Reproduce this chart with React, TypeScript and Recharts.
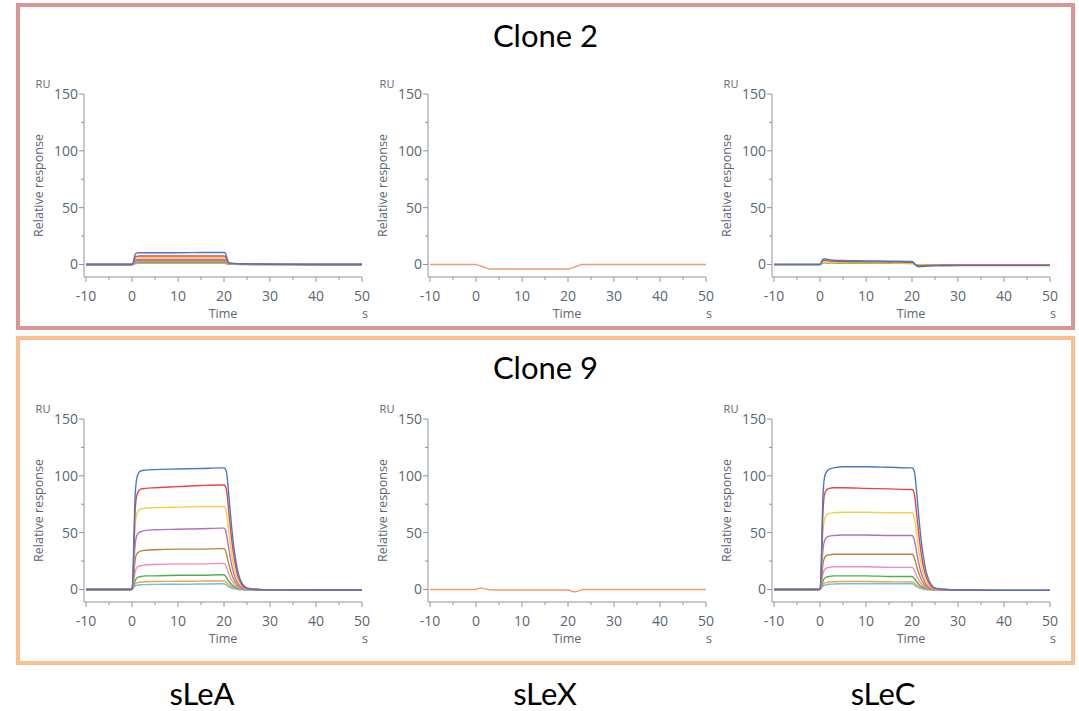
import React from 'react';
import { LineChart, Line, XAxis, YAxis, Label } from 'recharts';

// sample times (s) shared by every sensorgram
const TIME = [-10, -0.5, 0, 0.3, 0.6, 1, 1.5, 2, 3, 5, 10, 15, 19.5, 20, 20.3, 20.6, 21, 21.5, 22, 22.5, 23, 23.5, 24, 25, 27, 30, 40, 50];

const X_TICKS = [-10, -5, 0, 5, 10, 15, 20, 25, 30, 35, 40, 45, 50];
const Y_TICKS = [0, 25, 50, 75, 100, 125, 150];

// concentration series colours, highest first
const COLORS = ['#4a78c8', '#e8473f', '#f0d24a', '#b36fc4', '#b38a33', '#f08cbf', '#4cb04c', '#f5a245', '#6ec0e8'];
const SLEX_COLOR = '#f39a72';

// Clone 2
const clone2SLeA = [
  [0, 0, 0, 2, 8, 10, 10.3, 10.3, 10.3, 10.3, 10.4, 10.5, 10.5, 10.5, 10, 6, 2, 1.2, 1, 0.9, 0.8, 0.7, 0.7, 0.6, 0.5, 0.3, 0, 0],
  [0, 0, 0, 1.5, 5.5, 7.2, 7.5, 7.5, 7.5, 7.5, 7.5, 7.5, 7.5, 7.5, 7.1, 4.3, 1.5, 0.9, 0.8, 0.7, 0.6, 0.5, 0.5, 0.4, 0.3, 0.2, 0, 0],
  [0, 0, 0, 1.2, 4.4, 5.8, 6, 6, 6, 6, 6, 6, 6, 6, 5.7, 3.5, 1.2, 0.7, 0.6, 0.5, 0.5, 0.4, 0.4, 0.3, 0.2, 0.1, 0, 0],
  [0, 0, 0, 0.9, 3.3, 4.3, 4.5, 4.5, 4.5, 4.5, 4.5, 4.5, 4.5, 4.5, 4.3, 2.6, 0.9, 0.5, 0.5, 0.4, 0.4, 0.3, 0.3, 0.2, 0.2, 0.1, 0, 0],
  [0, 0, 0, 0.7, 2.6, 3.4, 3.5, 3.5, 3.5, 3.5, 3.5, 3.5, 3.5, 3.5, 3.3, 2, 0.7, 0.4, 0.4, 0.3, 0.3, 0.2, 0.2, 0.2, 0.1, 0.1, 0, 0],
  [0, 0, 0, 0.5, 1.8, 2.4, 2.5, 2.5, 2.5, 2.5, 2.5, 2.5, 2.5, 2.5, 2.4, 1.4, 0.5, 0.3, 0.3, 0.2, 0.2, 0.2, 0.1, 0.1, 0.1, 0, 0, 0],
  [0, 0, 0, 0.4, 1.5, 1.9, 2, 2, 2, 2, 2, 2, 2, 2, 1.9, 1.2, 0.4, 0.2, 0.2, 0.2, 0.1, 0.1, 0.1, 0.1, 0, 0, 0, 0],
  [0, 0, 0, 0.3, 1.1, 1.4, 1.5, 1.5, 1.5, 1.5, 1.5, 1.5, 1.5, 1.5, 1.4, 0.9, 0.3, 0.2, 0.1, 0.1, 0.1, 0.1, 0, 0, 0, 0, 0, 0],
  [0, 0, 0, 0.2, 0.7, 0.9, 1, 1, 1, 1, 1, 1, 1, 1, 0.9, 0.6, 0.2, 0.1, 0.1, 0.1, 0, 0, 0, 0, 0, 0, 0, 0],
];

const clone2SLeX = [
  [0, 0, 0, -0.4, -0.8, -1.3, -2, -2.7, -4, -4, -4, -4, -4, -4, -3.6, -3.2, -2.7, -2, -1.3, -0.7, 0, 0, 0, 0, 0, 0, 0, 0],
];

const clone2SLeC = [
  [0, 0, 0, 2, 4.5, 5, 4.6, 4.2, 3.8, 3.5, 3.2, 2.9, 2.7, 2.6, 2, 0.5, -1.2, -2, -1.9, -1.7, -1.5, -1.4, -1.3, -1.2, -1.1, -1, -1, -1],
  [0, 0, 0, 1.5, 3.2, 3.5, 3.3, 3, 2.8, 2.6, 2.4, 2.2, 2, 2, 1.5, 0.3, -0.8, -1.2, -1.1, -1, -0.9, -0.8, -0.7, -0.6, -0.5, -0.5, -0.5, -0.5],
  [0, 0, 0, 0.8, 1.8, 2, 1.9, 1.8, 1.7, 1.6, 1.5, 1.4, 1.3, 1.3, 1, 0.1, -0.4, -0.6, -0.5, -0.4, -0.3, -0.3, -0.2, -0.2, -0.2, -0.2, -0.2, -0.2],
  [0, 0, 0, 0.5, 1.2, 1.4, 1.3, 1.2, 1.2, 1.1, 1, 1, 0.9, 0.9, 0.7, 0, -0.3, -0.4, -0.3, -0.3, -0.2, -0.2, -0.1, -0.1, -0.1, -0.1, -0.1, -0.1],
];
const clone2SLeCColors = ['#4a78c8', '#e8473f', '#f0d24a', '#4cb04c'];

// Clone 9
const clone9SLeA = [
  [0, 0, 0.5, 25, 75, 97, 103, 104.5, 105, 105.5, 106, 106.5, 107, 107, 106, 102, 85, 62, 42, 27, 16, 9, 5, 1.5, 0, -0.3, -0.5, -0.5],
  [0, 0, 0.4, 20, 62, 82, 87, 88.5, 89, 89.5, 90.5, 91.5, 92, 92, 91, 86, 70, 50, 33, 21, 12, 7, 3.5, 1, 0, -0.3, -0.5, -0.5],
  [0, 0, 0.3, 16, 50, 66, 70, 71, 71.5, 72, 72.5, 73, 73, 73, 71.5, 66, 52, 36, 23, 14, 8, 4.5, 2.5, 0.8, 0, -0.3, -0.5, -0.5],
  [0, 0, 0.2, 12, 36, 47, 50, 51, 52, 52.5, 53, 53.5, 54, 54, 52.5, 47, 37, 25, 16, 10, 5.5, 3, 1.5, 0.5, 0, -0.3, -0.5, -0.5],
  [0, 0, 0.2, 8, 23, 31, 33, 34, 34.5, 35, 35.5, 35.5, 36, 36, 34.5, 30, 23, 15.5, 10, 6, 3.5, 2, 1, 0.3, 0, -0.3, -0.5, -0.5],
  [0, 0, 0.1, 5, 14, 19, 20.5, 21, 21.5, 22, 22.5, 22.5, 23, 23, 22, 19, 14, 9.5, 6, 3.5, 2, 1, 0.5, 0.2, 0, -0.3, -0.5, -0.5],
  [0, 0, 0.1, 3, 7, 10, 11, 11.5, 12, 12, 12.5, 12.5, 13, 13, 12, 10, 7.5, 5, 3, 1.8, 1, 0.5, 0.3, 0, 0, -0.3, -0.5, -0.5],
  [0, 0, 0.1, 2, 4.5, 5.8, 6.3, 6.6, 6.8, 7, 7.2, 7.4, 7.5, 7.5, 7, 5.8, 4.3, 2.8, 1.8, 1, 0.5, 0.3, 0.1, 0, 0, -0.3, -0.5, -0.5],
  [0, 0, 0, 1.2, 2.8, 3.6, 4, 4.2, 4.3, 4.5, 4.6, 4.8, 5, 5, 4.5, 3.5, 2.5, 1.5, 0.8, 0.3, 0, -0.2, -0.3, -0.5, -0.5, -0.5, -0.5, -0.5],
];

const clone9SLeX = [
  [0, 0, 0, 0.5, 1, 1.2, 1, 0.6, -0.2, -0.5, -0.5, -0.5, -0.5, -0.5, -0.7, -1.2, -1.8, -2, -1.6, -0.9, -0.3, 0, 0, 0, 0, 0, 0, 0],
];

const clone9SLeC = [
  [0, 0, 0.5, 26, 78, 99, 104, 106, 107, 108, 108, 107.5, 107, 107, 106, 102, 86, 63, 43, 28, 17, 10, 5.5, 1.5, 0, -0.5, -0.8, -0.8],
  [0, 0, 0.4, 21, 64, 84, 88, 89, 89.5, 89.5, 89, 88.5, 88, 88, 87, 82, 67, 48, 32, 20, 12, 7, 3.5, 1, 0, -0.5, -0.8, -0.8],
  [0, 0, 0.3, 16, 48, 62, 66, 67, 67.5, 68, 68, 67.5, 67.5, 67.5, 66, 61, 49, 34, 22, 13, 7.5, 4, 2, 0.6, 0, -0.5, -0.8, -0.8],
  [0, 0, 0.2, 11, 33, 43, 46, 47, 47.5, 48, 48, 47.5, 47.5, 47.5, 46, 42, 33, 22.5, 14.5, 9, 5, 2.8, 1.4, 0.4, 0, -0.5, -0.8, -0.8],
  [0, 0, 0.2, 7, 21, 28, 30, 30.5, 31, 31, 31, 31, 31, 31, 30, 26.5, 20.5, 14, 9, 5.5, 3, 1.7, 0.8, 0.2, 0, -0.5, -0.8, -0.8],
  [0, 0, 0.1, 4.5, 13, 17.5, 19, 19.5, 20, 20, 20, 19.5, 19.5, 19.5, 18.5, 16, 12, 8, 5, 3, 1.7, 0.9, 0.4, 0, -0.3, -0.5, -0.8, -0.8],
  [0, 0, 0.1, 2.8, 7, 10, 11, 11.5, 12, 12, 12, 11.5, 11.5, 11.5, 10.8, 9, 6.8, 4.5, 2.7, 1.6, 0.8, 0.4, 0.2, 0, -0.3, -0.5, -0.8, -0.8],
  [0, 0, 0.1, 1.8, 4.2, 5.6, 6.2, 6.6, 6.8, 7, 7, 6.8, 6.6, 6.6, 6.2, 5.2, 3.8, 2.5, 1.5, 0.8, 0.4, 0.2, 0, -0.2, -0.4, -0.5, -0.8, -0.8],
  [0, 0, 0, 1.2, 2.8, 3.8, 4.3, 4.6, 4.8, 5, 5, 5, 5, 5, 4.6, 3.6, 2.5, 1.5, 0.7, 0.2, -0.1, -0.3, -0.4, -0.5, -0.6, -0.7, -0.8, -0.8],
];

const AXIS = '#8d949c';
const TEXT = '#5c6572';
const FONT = '"Open Sans", sans-serif';
const TITLE_FONT = 'Lato, "Open Sans", sans-serif';

const XTick = (props: any) => {
  const { x, y, payload } = props;
  const v = payload.value;
  const major = v % 10 === 0;
  return (
    <g>
      <line x1={x} x2={x} y1={y} y2={y + (major ? 5 : 3)} stroke={AXIS} />
      {major && (
        <text x={x} y={y + 23.5} textAnchor="middle" fill={TEXT} fontSize={14} fontFamily={FONT}>
          {v}
        </text>
      )}
    </g>
  );
};

const YTick = (props: any) => {
  const { x, y, payload } = props;
  const v = payload.value;
  const major = v % 50 === 0;
  return (
    <g>
      <line x1={x - (major ? 5 : 3)} x2={x} y1={y} y2={y} stroke={AXIS} />
      {major && (
        <text x={x - 6} y={y + 5} textAnchor="end" fill={TEXT} fontSize={14} fontFamily={FONT}>
          {v}
        </text>
      )}
    </g>
  );
};

const XLabel = (props: any) => {
  const { x, y, width } = props.viewBox;
  return (
    <g fill={TEXT} fontFamily={FONT} fontSize={12.5}>
      <text x={x + width / 2} y={y + 41} textAnchor="middle">Time</text>
      <text x={x + width + 3} y={y + 41} textAnchor="middle">s</text>
    </g>
  );
};

const YLabel = (props: any) => {
  const { x, y, width, height } = props.viewBox;
  const ax = x + width;
  const cy = y + height / 2;
  return (
    <g fill={TEXT} fontFamily={FONT}>
      <text x={ax - 41} y={y - 6} textAnchor="middle" fontSize={11}>RU</text>
      <text
        x={ax - 45}
        y={cy}
        dy={4}
        textAnchor="middle"
        fontSize={12.5}
        transform={`rotate(-90 ${ax - 45} ${cy})`}
      >
        Relative response
      </text>
    </g>
  );
};

const PLOT_LEFT = [84, 428, 772];
const PLOT_TOP = [94, 419];

interface SensorgramProps {
  series: number[][];
  colors: string[];
  col: number;
  row: number;
}

const Sensorgram: React.FC<SensorgramProps> = ({ series, colors, col, row }) => {
  const data = TIME.map((t, i) => {
    const rowData: Record<string, number> = { t };
    series.forEach((s, k) => {
      rowData[`s${k}`] = s[i];
    });
    return rowData;
  });
  const order = series.map((_, k) => k).reverse();
  return (
    <div style={{ position: 'absolute', left: PLOT_LEFT[col] - 60, top: PLOT_TOP[row] - 20 }}>
      <LineChart width={352} height={251} data={data} margin={{ top: 20, right: 14, bottom: 8, left: 0 }}>
        <XAxis
          dataKey="t"
          type="number"
          domain={[-10, 50]}
          ticks={X_TICKS}
          interval={0}
          tick={(p: any) => <XTick {...p} />}
          tickLine={false}
          tickSize={0}
          tickMargin={0}
          axisLine={{ stroke: AXIS }}
          height={40}
          padding={{ left: 2, right: 0 }}
          allowDataOverflow
        >
          <Label content={(p: any) => <XLabel {...p} />} />
        </XAxis>
        <YAxis
          type="number"
          domain={[-11, 150]}
          ticks={Y_TICKS}
          interval={0}
          tick={(p: any) => <YTick {...p} />}
          tickLine={false}
          tickSize={0}
          tickMargin={0}
          axisLine={{ stroke: AXIS }}
          width={60}
          allowDataOverflow
        >
          <Label content={(p: any) => <YLabel {...p} />} />
        </YAxis>
        {order.map((k) => (
          <Line
            key={k}
            dataKey={`s${k}`}
            type="monotone"
            stroke={colors[k]}
            strokeWidth={1.4}
            dot={false}
            isAnimationActive={false}
          />
        ))}
      </LineChart>
    </div>
  );
};

const boxStyle = (top: number, height: number, color: string): React.CSSProperties => ({
  position: 'absolute',
  left: 16,
  top,
  width: 1059,
  height,
  border: `4px solid ${color}`,
  boxSizing: 'border-box',
});

const textStyle = (top: number, left: number, width: number): React.CSSProperties => ({
  position: 'absolute',
  top,
  left,
  width,
  textAlign: 'center',
  fontFamily: TITLE_FONT,
  fontSize: 31,
  lineHeight: 1,
  color: '#000',
});

export default function App() {
  return (
    <div style={{ position: 'absolute', left: 0, top: 0, width: 1079, height: 711, background: '#fff', overflow: 'hidden' }}>
      <div style={boxStyle(3, 327, '#d99694')} />
      <div style={boxStyle(336, 329, '#fac090')} />
      <div style={textStyle(20, 16, 1059)}>Clone 2</div>
      <div style={textStyle(352, 16, 1059)}>Clone 9</div>

      <Sensorgram series={clone2SLeA} colors={COLORS} col={0} row={0} />
      <Sensorgram series={clone2SLeX} colors={[SLEX_COLOR]} col={1} row={0} />
      <Sensorgram series={clone2SLeC} colors={clone2SLeCColors} col={2} row={0} />
      <Sensorgram series={clone9SLeA} colors={COLORS} col={0} row={1} />
      <Sensorgram series={clone9SLeX} colors={[SLEX_COLOR]} col={1} row={1} />
      <Sensorgram series={clone9SLeC} colors={COLORS} col={2} row={1} />

      <div style={textStyle(678, 102, 200)}>sLeA</div>
      <div style={textStyle(678, 445, 200)}>sLeX</div>
      <div style={textStyle(678, 783, 200)}>sLeC</div>
    </div>
  );
}
